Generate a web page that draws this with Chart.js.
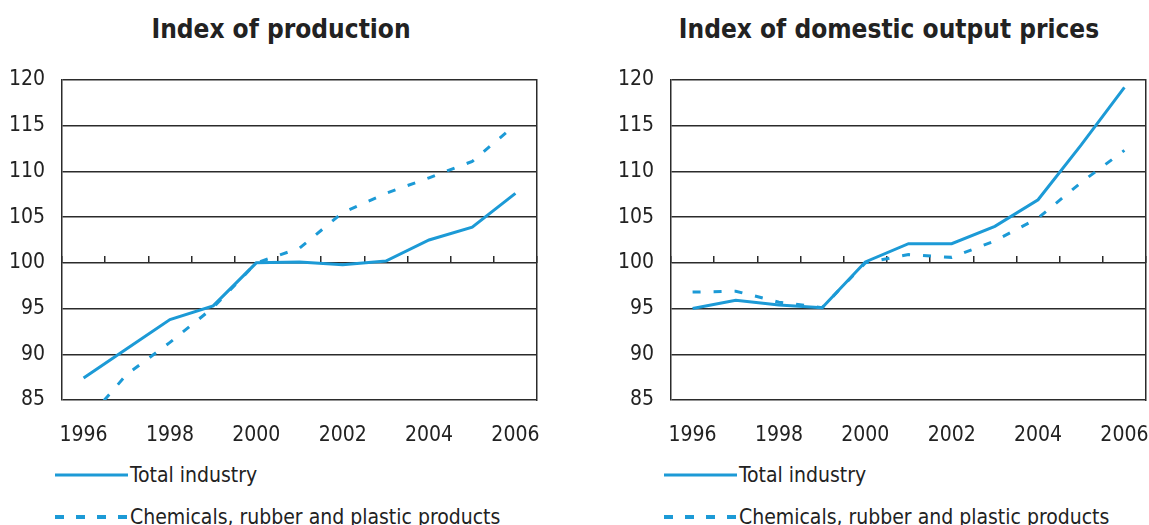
<!DOCTYPE html>
<html lang="en">
<head>
  <meta charset="UTF-8">
  <script src="https://cdn.jsdelivr.net/npm/chart.js"></script>
  <title>Index of production / domestic output prices</title>
  <style>
    body {
      margin: 0;
      padding: 0;
      background: #fff;
      width: 1149px;
      height: 525px;
      overflow: hidden;
      position: relative;
      font-family: 'DejaVu Sans Condensed', 'DejaVu Sans', sans-serif;
      color: #222;
    }
    .title {
      position: absolute;
      top: 14px;
      width: 500px;
      text-align: center;
      font-size: 26px;
      line-height: 30px;
      font-weight: bold;
      white-space: nowrap;
    }
    canvas {
      position: absolute;
      top: 0;
    }
    .legend-row {
      position: absolute;
      height: 24px;
      font-size: 21px;
      line-height: 24px;
      white-space: nowrap;
    }
    .legend-row svg {
      position: absolute;
      left: 0;
      top: 0;
    }
    .legend-row span {
      position: absolute;
      left: 75px;
      top: 0;
    }
  </style>
</head>
<body>
  <div class="title" style="left:31px">Index of production</div>
  <div class="title" style="left:639px">Index of domestic output prices</div>

  <canvas id="prodChart" width="540" height="460" style="left:0"></canvas>
  <canvas id="priceChart" width="540" height="460" style="left:609px"></canvas>

  <div id="legendLeft"></div>
  <div id="legendRight"></div>

  <script>
    // data
    const years = ['1996', '1997', '1998', '1999', '2000', '2001', '2002', '2003', '2004', '2005', '2006'];
    const xTickLabels = ['1996', '', '1998', '', '2000', '', '2002', '', '2004', '', '2006'];
    const seriesNames = ['Total industry', 'Chemicals, rubber and plastic products'];

    const prodTotal = [87.4, 90.6, 93.8, 95.3, 100, 100.1, 99.8, 100.2, 102.5, 103.9, 107.6];
    const prodChem = [82.4, 87.8, 91.3, 95.1, 100, 101.6, 105.5, 107.6, 109.3, 111.1, 115.1];

    const priceTotal = [95.0, 95.9, 95.4, 95.1, 100.1, 102.1, 102.1, 104.0, 106.9, 112.9, 119.2];
    const priceChem = [96.8, 96.9, 95.7, 95.1, 100, 100.9, 100.6, 102.4, 104.9, 108.8, 112.3];

    const blue = '#1c9ad6';
    const dark = '#2b2b2b';
    const fontFamily = "'DejaVu Sans Condensed', 'DejaVu Sans', sans-serif";

    Chart.defaults.font.family = fontFamily;
    Chart.defaults.color = '#222';

    function makeChart(id, total, chem, dashOffset) {
      const ctx = document.getElementById(id).getContext('2d');
      return new Chart(ctx, {
        type: 'line',
        data: {
          labels: years,
          datasets: [{
            label: seriesNames[0],
            data: total,
            borderColor: blue,
            borderWidth: 3,
            pointRadius: 0,
            tension: 0,
            xAxisID: 'x'
          }, {
            label: seriesNames[1],
            data: chem,
            borderColor: blue,
            borderWidth: 3,
            borderDash: [8, 13],
            borderDashOffset: dashOffset,
            pointRadius: 0,
            tension: 0,
            xAxisID: 'x'
          }]
        },
        options: {
          responsive: false,
          animation: false,
          events: [],
          layout: { padding: { top: 80, left: 0, right: 3, bottom: 0 } },
          plugins: {
            legend: { display: false },
            tooltip: { enabled: false },
            title: { display: false }
          },
          scales: {
            x: {
              type: 'category',
              position: 'bottom',
              offset: true,
              grid: { display: false },
              border: { display: false },
              ticks: {
                autoSkip: false,
                maxRotation: 0,
                padding: 15,
                font: { size: 21 },
                color: '#222',
                callback: (v, i) => xTickLabels[i]
              },
              afterFit: (scale) => {
                scale.height = 60;
                // labels sit inside the offset, no side room needed
                scale.paddingLeft = 0;
                scale.paddingRight = 0;
              }
            },
            // little tick marks sitting on the 100 line
            xMarks: {
              type: 'category',
              position: { y: 100 },
              offset: true,
              grid: {
                offset: true,
                drawOnChartArea: false,
                drawTicks: true,
                tickLength: -7,
                color: dark,
                lineWidth: 1.5
              },
              border: { display: false },
              ticks: { display: false, autoSkip: false }
            },
            y: {
              position: 'left',
              min: 85,
              max: 120,
              ticks: {
                stepSize: 5,
                padding: 17,
                font: { size: 21 },
                color: '#222'
              },
              grid: {
                color: dark,
                lineWidth: 1.5,
                drawTicks: false
              },
              border: { display: true, color: dark, width: 1.5 },
              afterFit: (scale) => { scale.width = 62; }
            },
            yRight: {
              position: 'right',
              min: 85,
              max: 120,
              ticks: { display: false },
              grid: { drawOnChartArea: false, drawTicks: false },
              border: { display: true, color: dark, width: 1.5 },
              afterFit: (scale) => { scale.width = 0; }
            }
          }
        }
      });
    }

    makeChart('prodChart', prodTotal, prodChem, 11);
    makeChart('priceChart', priceTotal, priceChem, 0);

    // legend under each chart
    function buildLegend(id, left) {
      const box = document.getElementById(id);
      const rows = [
        { top: 463, svg: '<line x1="0" y1="12" x2="73" y2="12" stroke="' + blue + '" stroke-width="3"/>' },
        { top: 505, svg: '<line x1="0" y1="12" x2="73" y2="12" stroke="' + blue + '" stroke-width="4" stroke-dasharray="9 12"/>' }
      ];
      rows.forEach((r, i) => {
        const row = document.createElement('div');
        row.className = 'legend-row';
        row.style.left = left + 'px';
        row.style.top = r.top + 'px';
        row.innerHTML = '<svg width="74" height="24">' + r.svg + '</svg><span></span>';
        row.querySelector('span').textContent = seriesNames[i];
        box.appendChild(row);
      });
    }

    buildLegend('legendLeft', 55);
    buildLegend('legendRight', 664);
  </script>
</body>
</html>
